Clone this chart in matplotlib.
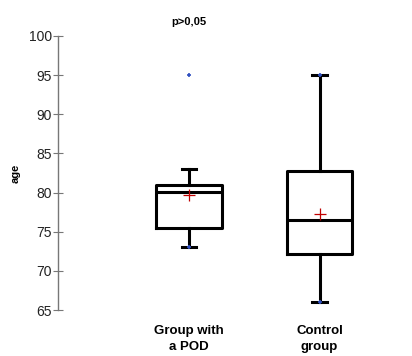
import matplotlib
matplotlib.use("Agg")
import matplotlib.pyplot as plt

plt.rcParams['font.family'] = ['Liberation Sans', 'DejaVu Sans']

# box statistics
groups = ['Group with\na POD', 'Control\ngroup']
q1 = [75.5, 72.1]
medians = [80.1, 76.5]
q3 = [81.0, 82.7]
whisk_lo = [73.0, 66.0]
whisk_hi = [83.0, 95.0]
means = [79.7, 77.3]
minimums = [73.0, 66.0]
maximums = [95.0, 95.0]

stats = []
for i in range(len(groups)):
    stats.append({'label': groups[i], 'q1': q1[i], 'med': medians[i], 'q3': q3[i],
                  'whislo': whisk_lo[i], 'whishi': whisk_hi[i], 'fliers': []})

fig = plt.figure(figsize=(4.12, 3.56), dpi=100)
ax = fig.add_axes([0.141, 0.129, 0.825, 0.77])

positions = [1, 2]
ax.bxp(stats, positions=positions, widths=0.5, showfliers=False,
       boxprops=dict(color='black', linewidth=2.2),
       medianprops=dict(color='black', linewidth=2.2),
       whiskerprops=dict(color='black', linewidth=2.2),
       capprops=dict(color='black', linewidth=2.2), capwidths=0.11)

# mean markers
ax.plot(positions, means, linestyle='none', marker='+', color='#c00000',
        markersize=9, markeredgewidth=0.9, zorder=5)
# min / max markers
ax.plot(positions, minimums, linestyle='none', marker='+', color='#3050c0',
        markersize=3, markeredgewidth=1.2, zorder=6)
ax.plot(positions, maximums, linestyle='none', marker='+', color='#3050c0',
        markersize=3, markeredgewidth=1.2, zorder=6)

ax.set_xlim(0, 2.6)
ax.set_ylim(65, 100)
ax.set_yticks(range(65, 101, 5))
ax.set_xticks(positions)
ax.set_xticklabels(groups, fontsize=9.5, fontweight='bold', linespacing=1.35)
ax.tick_params(axis='x', length=0, pad=11)
ax.tick_params(axis='y', direction='inout', length=7, color='#777777',
               labelsize=10, labelcolor='#222222', pad=1)

for side in ['top', 'right', 'bottom']:
    ax.spines[side].set_visible(False)
ax.spines['left'].set_color('#777777')
ax.spines['left'].set_linewidth(1.0)

ax.set_ylabel('age', fontsize=8, fontweight='bold', labelpad=6)
ax.set_title('p>0,05', fontsize=8, fontweight='bold', pad=8, x=0.385)

fig.savefig('out.png', dpi=100)
